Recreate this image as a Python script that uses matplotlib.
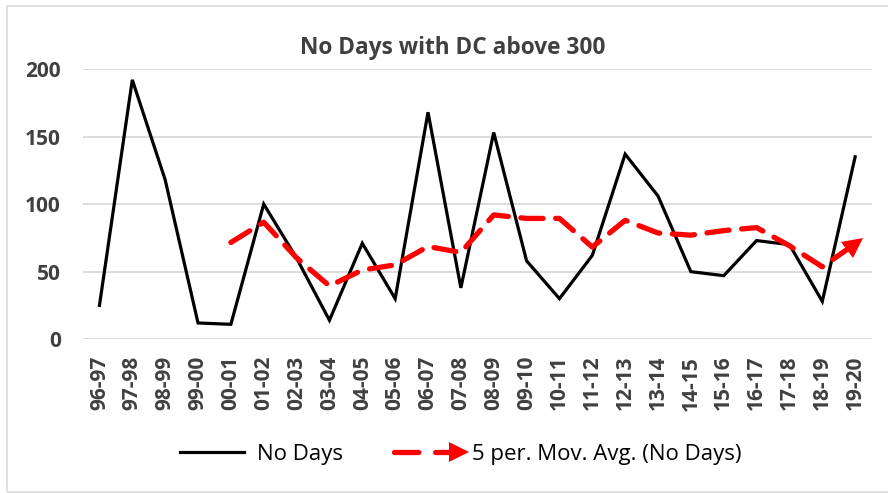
import numpy as np
import pandas as pd
import matplotlib
matplotlib.use("Agg")
import matplotlib.pyplot as plt
from matplotlib.lines import Line2D
from matplotlib.markers import MarkerStyle
from matplotlib.transforms import Affine2D
from matplotlib.patches import Rectangle
from matplotlib.legend_handler import HandlerLine2D

seasons = ["96-97", "97-98", "98-99", "99-00", "00-01", "01-02", "02-03", "03-04",
           "04-05", "05-06", "06-07", "07-08", "08-09", "09-10", "10-11", "11-12",
           "12-13", "13-14", "14-15", "15-16", "16-17", "17-18", "18-19", "19-20"]
no_days = [25, 192, 118, 12, 11, 100, 60, 14, 71, 30, 168, 38, 153, 58, 30, 62,
           137, 106, 50, 47, 73, 70, 28, 135]
window = 5

plt.rcParams['font.family'] = ['Open Sans', 'DejaVu Sans']

# Excel-style trendline: 5 period moving average of the series
mov_avg = pd.Series(no_days).rolling(window).mean()


class ArrowEndHandler(HandlerLine2D):
    # legend line with the arrow head only at the right end
    def create_artists(self, legend, orig_handle, xdescent, ydescent,
                       width, height, fontsize, trans):
        arts = super().create_artists(legend, orig_handle, xdescent, ydescent,
                                      width, height, fontsize, trans)
        for a in arts:
            n = len(a.get_xdata())
            a.set_markevery([n - 1])
        return arts


fig = plt.figure(figsize=(8.88, 4.93), dpi=100)
ax = fig.add_axes([0.0935, 0.312, 0.888, 0.548])

x = np.arange(len(seasons))
ax.plot(x, no_days, color='black', lw=2.3, solid_joinstyle='miter', zorder=3)
ax.plot(x, mov_avg, color='#ff0000', lw=3.8, dashes=(4.2, 2.4),
        dash_capstyle='round', zorder=4)

# arrow head at end of trendline, oriented along the last segment
fig.canvas.draw()
p0 = ax.transData.transform((x[-2], mov_avg.iloc[-2]))
p1 = ax.transData.transform((x[-1], mov_avg.iloc[-1]))
ang = np.degrees(np.arctan2(p1[1] - p0[1], p1[0] - p0[0]))
head = MarkerStyle('>', transform=Affine2D().rotate_deg(ang))
ax.plot(x[-1], mov_avg.iloc[-1], marker=head, color='#ff0000', ms=14,
        markeredgewidth=0, zorder=5)

ax.set_xlim(-0.5, len(seasons) - 0.5)
ax.set_ylim(0, 200)
ax.set_yticks([0, 50, 100, 150, 200])
ax.set_xticks(x)
ax.set_xticklabels(seasons, rotation=90)
ax.yaxis.grid(True, color='#d9d9d9', lw=1.3)
ax.set_axisbelow(True)
for s in ax.spines.values():
    s.set_visible(False)
ax.tick_params(length=0, labelsize=15, labelcolor='#404040', pad=12)
ax.tick_params(axis='y', pad=16)
for lab in ax.get_xticklabels() + ax.get_yticklabels():
    lab.set_fontweight('bold')

ax.set_title('No Days with DC above 300', fontsize=16.3, fontweight='bold',
             color='#404040', pad=11, x=0.469)

h1 = Line2D([], [], color='black', lw=2.3)
h2 = Line2D([], [], color='#ff0000', lw=3.8, dashes=(4.6, 3.2),
            dash_capstyle='round', marker='>', ms=14, markeredgewidth=0)
fig.legend([h1, h2], ['No Days', '5 per. Mov. Avg. (No Days)'],
           loc='center', bbox_to_anchor=(0.515, 0.079), ncol=2, frameon=False,
           fontsize=16, numpoints=2, handlelength=3.5, columnspacing=2.0,
           handletextpad=0.3, handler_map={h2: ArrowEndHandler()})

fig.patches.append(Rectangle((7 / 888, 0.002), 0.995, 0.985, transform=fig.transFigure,
                             fill=False, edgecolor='#d9d9d9', lw=1.2))

fig.savefig('out.png', dpi=100)
